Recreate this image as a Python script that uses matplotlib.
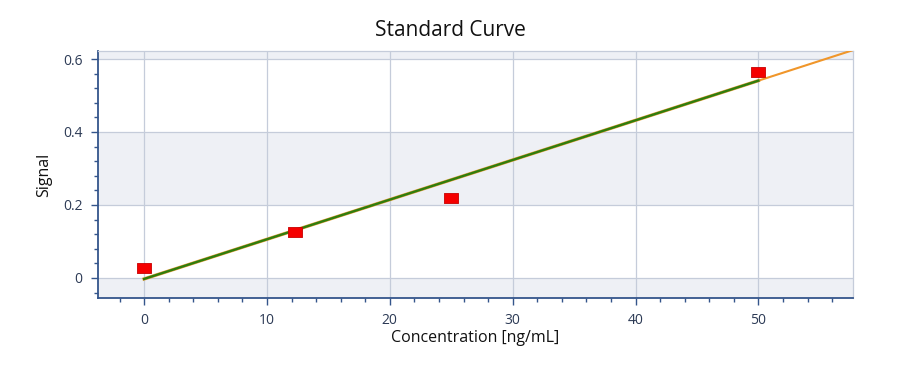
import matplotlib
matplotlib.use("Agg")
import matplotlib.pyplot as plt
from matplotlib.ticker import MultipleLocator

# Standard points
conc = [0, 12.3, 25, 50]
signal = [0.027, 0.127, 0.22, 0.565]

# Fitted line (slope, intercept) and ranges
slope = 0.01087
intercept = -0.0028
fit_range = [0, 50]
extrap_range = [50, 57.7]

X_LIM = (-3.75, 57.7)
Y_LIM = (-0.055, 0.622)
BAND_EDGES = [-0.055, 0.0, 0.2, 0.4, 0.6, 0.622]

plt.rcParams['font.family'] = ['Open Sans', 'DejaVu Sans']

fig = plt.figure(figsize=(9, 3.65), dpi=100)
ax = fig.add_axes([98 / 900, 1 - 298 / 365, (853 - 98) / 900, (298 - 51) / 365])

# alternating background bands
for i in range(len(BAND_EDGES) - 1):
    if i % 2 == 0:
        ax.axhspan(BAND_EDGES[i], BAND_EDGES[i + 1], color="#eef0f5", lw=0, zorder=0)

ax.grid(True, color="#c5ccda", lw=0.9, zorder=1)
ax.set_axisbelow(True)

ax.plot(extrap_range, [slope * v + intercept for v in extrap_range],
        color="#f0962a", lw=1.5, zorder=3)
ax.plot(fit_range, [slope * v + intercept for v in fit_range],
        color="#e8a040", lw=2.4, zorder=3)
ax.plot(fit_range, [slope * v + intercept for v in fit_range],
        color="#2f7d0c", lw=1.7, zorder=4)

rect = [(-1, -0.72), (1, -0.72), (1, 0.72), (-1, 0.72), (-1, -0.72)]
ax.plot(conc, signal, ls="none", marker=rect, markersize=10.5,
        markerfacecolor="#f50000", markeredgecolor="#c80000",
        markeredgewidth=0.6, zorder=5)

ax.set_xlim(*X_LIM)
ax.set_ylim(*Y_LIM)
ax.xaxis.set_major_locator(MultipleLocator(10))
ax.xaxis.set_minor_locator(MultipleLocator(2))
ax.yaxis.set_major_locator(MultipleLocator(0.2))
ax.yaxis.set_minor_locator(MultipleLocator(0.04))
ax.set_yticks([0, 0.2, 0.4, 0.6], ["0", "0.2", "0.4", "0.6"])

spine_col = "#34558b"
for side in ["left", "bottom"]:
    ax.spines[side].set_color(spine_col)
    ax.spines[side].set_linewidth(1.3)
for side in ["top", "right"]:
    ax.spines[side].set_color("#c5ccda")
    ax.spines[side].set_linewidth(0.9)

ax.tick_params(which="major", length=5, width=1, color=spine_col,
               labelsize=10, labelcolor="#2c3a55", pad=6)
ax.tick_params(which="minor", length=3, width=1, color=spine_col)
ax.tick_params(axis="x", which="both", top=False)
ax.tick_params(axis="y", which="both", right=False)

ax.set_xlabel("Concentration [ng/mL]", fontsize=11.5, color="#111111", labelpad=1)
ax.set_ylabel("Signal", fontsize=11.5, color="#111111", labelpad=8)
fig.text(0.5, 1 - 30 / 365, "Standard Curve", ha="center", va="center",
         fontsize=15, color="#111111")

fig.savefig("out.png", dpi=100)
